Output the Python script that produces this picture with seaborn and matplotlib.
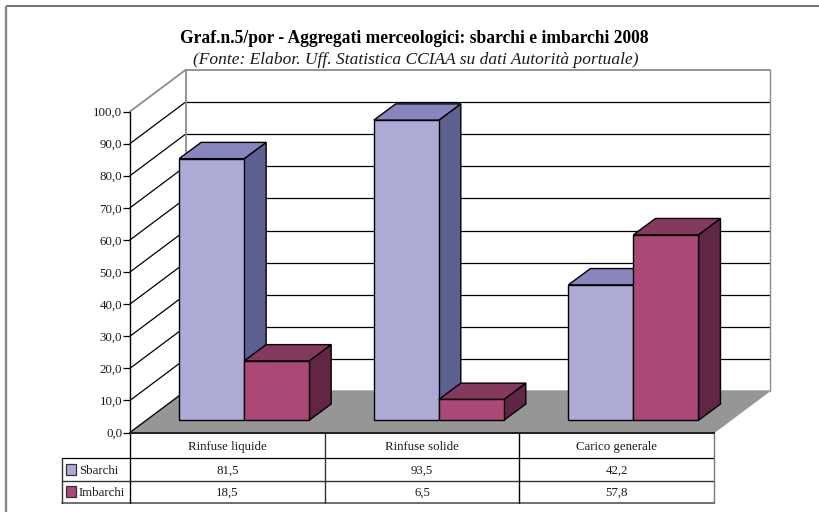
import matplotlib
matplotlib.use("Agg")
import matplotlib.pyplot as plt
import pandas as pd
import seaborn as sns
from matplotlib.patches import Polygon, Rectangle

# ---- data ----
categories = ["Rinfuse liquide", "Rinfuse solide", "Carico generale"]
sbarchi = [81.5, 93.5, 42.2]
imbarchi = [18.5, 6.5, 57.8]
series_names = ["Sbarchi", "Imbarchi"]
y_ticks = [0, 10, 20, 30, 40, 50, 60, 70, 80, 90, 100]
title = "Graf.n.5/por - Aggregati merceologici: sbarchi e imbarchi 2008"
subtitle = "(Fonte: Elabor. Uff. Statistica CCIAA su dati Autorità portuale)"

# ---- styles ----
front = {"Sbarchi": "#ADABD6", "Imbarchi": "#AB4877"}
top = {"Sbarchi": "#8886BF", "Imbarchi": "#85395F"}
side = {"Sbarchi": "#5F6092", "Imbarchi": "#612643"}
FLOOR = "#969696"
GREY = "#8c8c8c"
TXT = "#1a1a1a"
SERIF = "Liberation Serif"

# ---- layout in pixels ----
W, H = 819, 512
AX_L, AX_R, AX_B, AX_T = 130.0, 714.0, 432.5, 111.5
WALL_DX, WALL_DY = 55.5, -41.5
BAR_DX, BAR_DY = 16.8, -12.2
DEPTH_DX, DEPTH_DY = 22.0, -16.3
ROWS = [432.5, 458.3, 480.7, 502.7]
HDR_L = 62.0

sns.set_theme(style="white")
plt.rcParams["font.family"] = [SERIF, "DejaVu Serif"]
fig = plt.figure(figsize=(W / 100, H / 100), dpi=100, facecolor="white")


def rect(l, r, b, t):
    return [l / W, 1 - b / H, (r - l) / W, (b - t) / H]


# background canvas in pixel units
bg = fig.add_axes([0, 0, 1, 1], zorder=0)
bg.set_xlim(0, W)
bg.set_ylim(H, 0)
bg.axis("off")

# outer frame (top and left only are in view)
bg.plot([5.5, W], [6, 6], color="#777777", lw=1.5, solid_capstyle="butt")
bg.plot([5.5, 5.5], [6, H], color="#888888", lw=1.7, solid_capstyle="butt")

bg.text(414.5, 38.5, title, ha="center", va="center", fontsize=12.65,
        fontweight="bold", color="black")
bg.text(415.5, 59.5, subtitle, ha="center", va="center", fontsize=12.55,
        style="italic", color=TXT)

scale = (AX_B - AX_T) / 100


def ypx(v):
    return AX_B - v * scale


# floor
bg.add_patch(Polygon([(AX_L, AX_B), (AX_L + WALL_DX, AX_B + WALL_DY),
                      (AX_R + WALL_DX, AX_B + WALL_DY), (AX_R, AX_B)],
                     closed=True, facecolor=FLOOR, edgecolor=FLOOR, lw=1))

# walls and gridlines
for v in y_ticks[1:]:
    c = GREY if v == 100 else "black"
    lw = 1.3 if v == 100 else 0.9
    y = ypx(v)
    bg.plot([AX_L, AX_L + WALL_DX], [y, y + WALL_DY], color=c, lw=lw)
    bg.plot([AX_L + WALL_DX, AX_R + WALL_DX], [y + WALL_DY] * 2, color=c, lw=lw)
bx = AX_L + WALL_DX
bg.plot([bx, bx], [ypx(0) + WALL_DY, ypx(100) + WALL_DY], color=GREY, lw=1.3)
bg.plot([AX_R + WALL_DX] * 2, [ypx(0) + WALL_DY, ypx(100) + WALL_DY], color=GREY, lw=1.0)
bg.plot([AX_L, bx], [ypx(0), ypx(0) + WALL_DY], color="black", lw=0.9)

# front axis frame: y ticks and category labels
fa = fig.add_axes(rect(AX_L, AX_R, AX_B, AX_T), zorder=1, facecolor="none")
fa.set_xlim(-0.5, 2.5)
fa.set_ylim(0, 100)
fa.set_yticks(y_ticks)
fa.set_yticklabels([f"{v:.1f}".replace(".", ",") for v in y_ticks],
                   fontsize=9.3, color=TXT)
fa.set_xticks(range(len(categories)))
fa.set_xticklabels(categories, fontsize=9.3, color=TXT)
fa.tick_params(axis="y", length=5, width=0.9, color="black", pad=0.6, left=True)
fa.tick_params(axis="x", length=0, pad=6)
for s in ("top", "right"):
    fa.spines[s].set_visible(False)
fa.spines["left"].set_linewidth(1.0)
fa.spines["left"].set_color("black")
fa.spines["bottom"].set_linewidth(1.4)
fa.spines["bottom"].set_color("#222222")

# bars with seaborn on a plane shifted into the floor
df = pd.DataFrame({
    "cat": categories * 2,
    "serie": [series_names[0]] * 3 + [series_names[1]] * 3,
    "val": sbarchi + imbarchi,
})
ax = fig.add_axes(rect(AX_L + BAR_DX, AX_R + BAR_DX, AX_B + BAR_DY, AX_T + BAR_DY),
                  zorder=2, facecolor="none")
sns.barplot(data=df, x="cat", y="val", hue="serie", order=categories,
            hue_order=series_names, palette=front, width=0.668, gap=0,
            dodge=True, edgecolor="black", linewidth=1.0, legend=False, ax=ax,
            saturation=1)
ax.set_xlim(-0.5, 2.5)
ax.set_ylim(0, 100)
ax.axis("off")

# 3D faces derived from each bar's geometry
ddx = DEPTH_DX / ((AX_R - AX_L) / 3)
ddy = -DEPTH_DY / scale
for j, (name, cont) in enumerate(zip(series_names, ax.containers)):
    for bar in cont:
        x0, x1 = bar.get_x(), bar.get_x() + bar.get_width()
        h = bar.get_height()
        bar.set_zorder(3 + 2 * j)
        bar.set_clip_on(False)
        ax.add_patch(Polygon([(x1, 0), (x1 + ddx, ddy), (x1 + ddx, h + ddy), (x1, h)],
                             closed=True, facecolor=side[name], edgecolor="black",
                             lw=1.0, zorder=2 + 2 * j, clip_on=False))
        ax.add_patch(Polygon([(x0, h), (x0 + ddx, h + ddy), (x1 + ddx, h + ddy), (x1, h)],
                             closed=True, facecolor=top[name], edgecolor="black",
                             lw=1.0, zorder=2 + 2 * j, clip_on=False))

# data table
vx = [AX_L + i * (AX_R - AX_L) / 3 for i in range(4)]
cx = [(vx[i] + vx[i + 1]) / 2 for i in range(3)]
bg.plot([AX_L, AX_R], [ROWS[0]] * 2, color="#222222", lw=1.2)
bg.plot([HDR_L, AX_R], [ROWS[1]] * 2, color="black", lw=0.9)
bg.plot([HDR_L, AX_R], [ROWS[2]] * 2, color="#333333", lw=1.0)
bg.plot([HDR_L, AX_R], [ROWS[3]] * 2, color="#555555", lw=1.2)
bg.plot([HDR_L, HDR_L], [ROWS[1], ROWS[3]], color="#333333", lw=1.0)
bg.plot([vx[0]] * 2, [ROWS[0], ROWS[3]], color="black", lw=1.0)
bg.plot([vx[1]] * 2, [ROWS[0], ROWS[3]], color="#333333", lw=1.0)
bg.plot([vx[2]] * 2, [ROWS[0], ROWS[3]], color="black", lw=1.0)
bg.plot([vx[3]] * 2, [ROWS[0], ROWS[3]], color="#777777", lw=1.0)

for r, (name, vals) in enumerate(zip(series_names, (sbarchi, imbarchi))):
    yc = (ROWS[r + 1] + ROWS[r + 2]) / 2
    bg.add_patch(Rectangle((65.5, yc - 5.3), 10.5, 10.5, facecolor=front[name],
                           edgecolor="#333333", lw=0.9))
    bg.text(78.7, yc + 1.5, name, ha="left", va="center", fontsize=9.3, color=TXT)
    for x, v in zip(cx, vals):
        bg.text(x, yc + 1.5, f"{v:.1f}".replace(".", ","), ha="center", va="center",
                fontsize=9.3, color=TXT)

fig.savefig("out.png", dpi=100)
